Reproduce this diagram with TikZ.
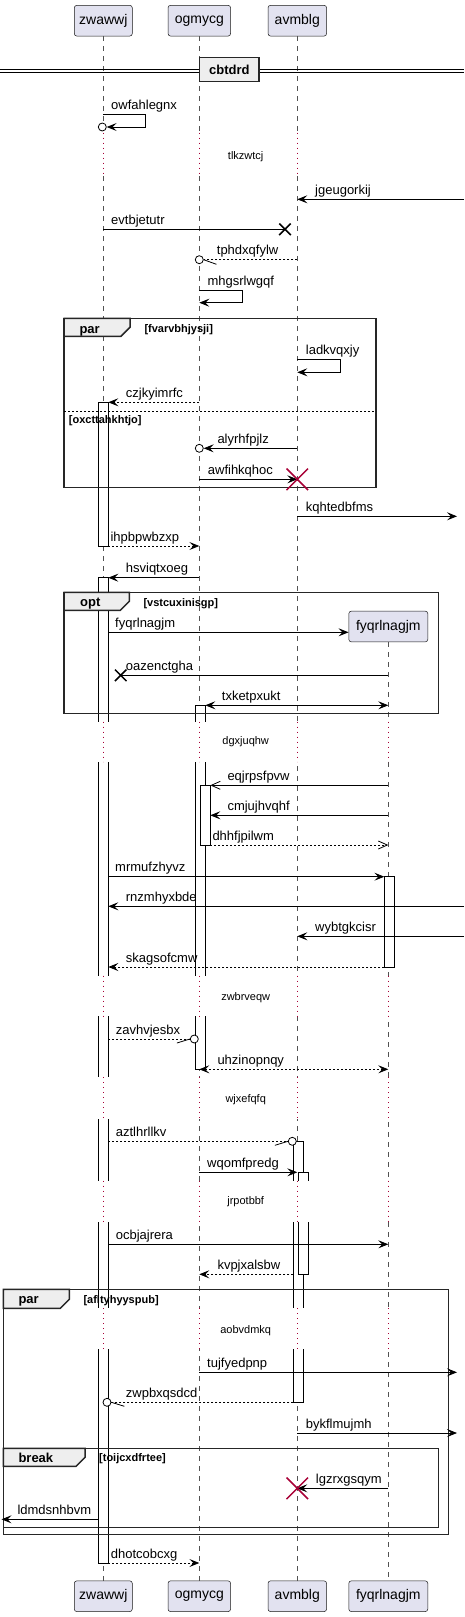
\documentclass[tikz,border=0pt]{standalone}
\usepackage{fontspec}
\setmainfont{Liberation Sans}
\usetikzlibrary{arrows.meta,shapes.misc}
\definecolor{partfill}{HTML}{E2E2F0}
\definecolor{partline}{HTML}{181818}
\definecolor{delayred}{HTML}{A80036}
\definecolor{tabfill}{HTML}{EEEEEE}
\begin{document}
\begin{tikzpicture}[x=1pt,y=-1pt,
	part/.style={draw=partline,fill=partfill,rounded corners=2.5pt,line width=0.5pt,minimum height=30.7pt,inner sep=0pt,font=\fontsize{14}{16}\selectfont},
	life/.style={draw=partline!75,line width=0.5pt,dash pattern=on 5pt off 5pt},
	dots/.style={draw=delayred,line width=0.8pt,dash pattern=on 1pt off 4pt},
	abar/.style={draw=black,fill=white,line width=0.8pt},
	plain/.style={draw=black,line width=0.8pt},
	msg/.style={plain,-{Stealth[length=10pt,width=8pt,inset=4pt]}},
	back/.style={msg,dash pattern=on 2pt off 2pt},
	openhd/.style={plain,-{Straight Barb[length=9pt,width=8pt]}},
	both/.style={plain,{Stealth[length=10pt,width=8pt,inset=4pt]}-{Stealth[length=10pt,width=8pt,inset=4pt]}},
	lbl/.style={anchor=base west,inner sep=0pt,font=\fontsize{13}{15}\selectfont},
	dlbl/.style={inner sep=0pt,font=\fontsize{11}{13}\selectfont},
	ring/.style={circle,draw=black,fill=white,line width=0.8pt,minimum size=8pt,inner sep=0pt},
	lost/.style={cross out,draw=black,line width=1.5pt,minimum size=10pt,inner sep=0pt},
	kill/.style={cross out,draw=delayred,line width=1.5pt,minimum size=20pt,inner sep=0pt},
	frame/.style={draw=black!85,line width=1.5pt},
	tab/.style={draw=black!85,fill=tabfill,line width=1.5pt},
	glbl/.style={anchor=base west,inner sep=0pt,font=\bfseries\fontsize{13}{15}\selectfont},
	cond/.style={anchor=base west,inner sep=0pt,font=\bfseries\fontsize{11}{13}\selectfont}]
	\useasboundingbox (0,0) rectangle (464,1617);

	% participants
	\node[part,minimum width=58pt] (zw) at (103.3,20.7) {zwawwj};
	\node[part,minimum width=62.6pt] (og) at (199.3,20.7) {ogmycg};
	\node[part,minimum width=58.6pt] (av) at (297.3,20.7) {avmblg};
	\node[part,minimum width=79pt] (fy) at (388.3,626.5) {fyqrlnagjm};
	\node[part,minimum width=58pt] (zwB) at (103.3,1596.2) {zwawwj};
	\node[part,minimum width=62.6pt] (ogB) at (199.3,1596.2) {ogmycg};
	\node[part,minimum width=58.6pt] (avB) at (297.3,1596.2) {avmblg};
	\node[part,minimum width=79pt] (fyB) at (388.3,1596.2) {fyqrlnagjm};
	\foreach \p in {zw,og,av,fy}
	{
		\draw[life] (\p) -- (\p B);
	}

	\coordinate (rin) at (464,0);
	\coordinate (rout) at (457,0);
	\coordinate (lout) at (1.5,0);
	\coordinate (zwL) at (98.7,0);
	\coordinate (zwR) at (108.3,0);
	\coordinate (ogR) at (205.3,0);
	\coordinate (ogR2) at (210.3,0);
	\coordinate (avL) at (293.3,0);
	\coordinate (fyL) at (384.3,0);

	% activations
	\draw[abar] (98.7,402.3) rectangle (108.3,546);
	\draw[abar] (98.7,577.7) rectangle (108.3,1563);
	\draw[abar] (195.3,705.3) rectangle (205.3,1069.3);
	\draw[abar] (200.3,785.3) rectangle (210.3,845);
	\draw[abar] (384.3,876.7) rectangle (394.3,967);
	\draw[abar] (293.3,1141.3) rectangle (303.3,1402.3);
	\draw[abar] (298.3,1172.3) rectangle (308.3,1274.3);

	% delays
	\fill[white] (60,132.7) rectangle (440,173);
	\foreach \p in {zw,og,av}
	{
		\draw[dots] (\p |- 0,132.7) -- (\p |- 0,173);
	}
	\node[dlbl] (dtlkzwtcj) at (245.7,157) {tlkzwtcj};
	\foreach \a/\b/\c/\t in {721.7/761.7/742/dgxjuqhw,975.7/1016/997.3/zwbrveqw,1077.3/1119.3/1099.3/wjxefqfq,1180.7/1221.7/1202/jrpotbbf,1308.3/1349.3/1330.7/aobvdmkq}
	{
		\fill[white] (60,\a) rectangle (440,\b);
		\foreach \p in {zw,og,av,fy}
		{
			\draw[dots] (\p |- 0,\a) -- (\p |- 0,\b);
		}
		\node[dlbl] (d\t) at (245.7,\c) {\t};
	}

	% divider
	\draw[black,line width=0.8pt] (0,69) -- (464,69) (0,72) -- (464,72);
	\node[draw=black!85,fill=tabfill,line width=1.5pt,minimum width=59.3pt,minimum height=24pt,inner sep=0pt,font=\bfseries\fontsize{13}{15}\selectfont] (sep) at (229.3,69.7) {cbtdrd};

	% groups
	\draw[frame] (64,318.3) rectangle (376,487.7);
	\draw[tab] (64,318.3) -- (130,318.3) -- (130,327.3) -- (121,336.3) -- (64,336.3) -- cycle;
	\node[glbl] (gpar) at (79.3,333) {par};
	\node[cond] (gparc) at (144.3,332.7) {[fvarvbhjysji]};
	\draw[black,line width=0.8pt,dash pattern=on 2pt off 2pt] (64,411.3) -- (376,411.3);
	\node[cond] (gelse) at (68.7,423.3) {[oxcttahkhtjo]};

	\draw[frame] (64,592.3) rectangle (438.7,713.7);
	\draw[tab] (64,592.3) -- (129.3,592.3) -- (129.3,601.3) -- (120.3,610.3) -- (64,610.3) -- cycle;
	\node[glbl] (gopt) at (80,606.5) {opt};
	\node[cond] (goptc) at (143.3,606.3) {[vstcuxinisgp]};

	\draw[frame] (3.3,1289.3) rectangle (448.7,1534.3);
	\draw[tab] (3.3,1289.3) -- (69.3,1289.3) -- (69.3,1299.3) -- (60.3,1308.3) -- (3.3,1308.3) -- cycle;
	\node[glbl] (gpar2) at (18.3,1303.7) {par};
	\node[cond] (gpar2c) at (83.3,1303.3) {[afltyhyyspub]};

	\draw[frame] (3.3,1448.3) rectangle (438.7,1527.3);
	\draw[tab] (3.3,1448.3) -- (85,1448.3) -- (85,1457.3) -- (76,1466.3) -- (3.3,1466.3) -- cycle;
	\node[glbl] (gbrk) at (18.3,1462) {break};
	\node[cond] (gbrkc) at (99,1461.7) {[toijcxdfrtee]};

	% messages
	\node[ring] (r1) at (102.3,127) {};
	\draw[msg] (zw |- 0,114.3) -- ++(42.3,0) |- (r1);
	\draw[msg] (rin |- 0,199.3) -- (av |- 0,199.3);
	\node[lost] (x1) at (285,229.3) {};
	\draw[plain] (zw |- 0,229.3) -- (x1.center);
	\node[ring] (r2) at (199.3,259.7) {};
	\draw[plain,dash pattern=on 2pt off 2pt] (av |- 0,259.7) -- (r2);
	\draw[plain] (r2.east) -- ++(12.7,4.6);
	\draw[msg] (og |- 0,290.3) -- ++(43,0) |- (og |- 0,302.7);
	\draw[msg] (av |- 0,359.3) -- ++(43,0) |- (av |- 0,372.3);
	\draw[back] (og |- 0,402.3) -- (zwR |- 0,402.3);
	\node[ring] (r3) at (199.3,448.3) {};
	\draw[msg] (av |- 0,448.3) -- (r3);
	\draw[msg] (og |- 0,479.3) -- (av |- 0,479.3);
	\node[kill] (k1) at (av |- 0,479.3) {};
	\draw[msg] (av |- 0,516.3) -- (rout |- 0,516.3);
	\draw[back] (zwR |- 0,546) -- (og |- 0,546);
	\draw[msg] (og |- 0,577.7) -- (zwR |- 0,577.7);
	\draw[msg] (zwR |- 0,632.3) -- (fy.west |- 0,632.3);
	\node[lost] (x2) at (120.7,675.3) {};
	\draw[plain] (fy |- 0,675.3) -- (x2.center);
	\draw[both] (ogR |- 0,705.3) -- (fy |- 0,705.3);
	\draw[openhd] (fy |- 0,785.3) -- (ogR2 |- 0,785.3);
	\draw[msg] (fy |- 0,815.3) -- (ogR2 |- 0,815.3);
	\draw[openhd,dash pattern=on 2pt off 2pt] (ogR2 |- 0,845) -- (fy |- 0,845);
	\draw[msg] (zwR |- 0,876.7) -- (fyL |- 0,876.7);
	\draw[msg] (rin |- 0,906.3) -- (zwR |- 0,906.3);
	\draw[msg] (rin |- 0,936.3) -- (av |- 0,936.3);
	\draw[back] (fyL |- 0,967) -- (zwR |- 0,967);
	\node[ring] (r4) at (194.3,1039) {};
	\draw[plain,dash pattern=on 2pt off 2pt] (zwR |- 0,1039) -- (r4);
	\draw[plain] (r4.west) -- ++(-13,4);
	\draw[both,dash pattern=on 2pt off 2pt] (og |- 0,1069.3) -- (fy |- 0,1069.3);
	\node[ring] (r5) at (292.3,1141.3) {};
	\draw[plain,dash pattern=on 2pt off 2pt] (zwR |- 0,1141.3) -- (r5);
	\draw[plain] (r5.west) -- ++(-13,4);
	\draw[msg] (og |- 0,1172.3) -- (av |- 0,1172.3);
	\draw[msg] (zwR |- 0,1244.3) -- (fy |- 0,1244.3);
	\draw[back] (avL |- 0,1274.3) -- (og |- 0,1274.3);
	\draw[msg] (og |- 0,1372.3) -- (rout |- 0,1372.3);
	\node[ring] (r6) at (107,1402.3) {};
	\draw[plain,dash pattern=on 2pt off 2pt] (avL |- 0,1402.3) -- (r6);
	\draw[plain] (r6.east) -- ++(13,4);
	\draw[msg] (av |- 0,1433) -- (rout |- 0,1433);
	\draw[msg] (fy |- 0,1488.3) -- (av |- 0,1488.3);
	\node[kill] (k2) at (av |- 0,1488.3) {};
	\draw[msg] (zwL |- 0,1519.3) -- (lout |- 0,1519.3);
	\draw[back] (zwR |- 0,1563) -- (og |- 0,1563);

	% labels
	\foreach \x/\y/\t in {111/114.3/owfahlegnx,315/199.3/jgeugorkij,111/229.3/evtbjetutr,216.7/259.7/tphdxqfylw,207.3/290.3/mhgsrlwgqf,305.7/359.3/ladkvqxjy,125.7/402.3/czjkyimrfc,217.3/448.3/alyrhfpjlz,207.7/479.3/awfihkqhoc,305.7/516.3/kqhtedbfms,110.3/546/ihpbpwbzxp,125.7/577.7/hsviqtxoeg,115/632.3/fyqrlnagjm,125.7/675.3/oazenctgha,221.7/705.3/txketpxukt,227.3/785.3/eqjrpsfpvw,227.3/815.3/cmjujhvqhf,212.3/845/dhhfjpilwm,115/876.7/mrmufzhyvz,125.7/906.3/rnzmhyxbde,315/936.3/wybtgkcisr,125.7/967/skagsofcmw,115.7/1039/zavhvjesbx,217.3/1069.3/uhzinopnqy,115.7/1141.3/aztlhrllkv,207/1172.3/wqomfpredg,115.7/1244.3/ocbjajrera,217.3/1274.3/kvpjxalsbw,207/1372.3/tujfyedpnp,125.7/1402.3/zwpbxqsdcd,305.7/1433/bykflmujmh,315.7/1488.3/lgzrxgsqym,17.3/1519.3/ldmdsnhbvm,110.7/1563/dhotcobcxg}
	{
		\node[lbl] (m\t) at (\x,\y-5) {\t};
	}
\end{tikzpicture}
\end{document}
